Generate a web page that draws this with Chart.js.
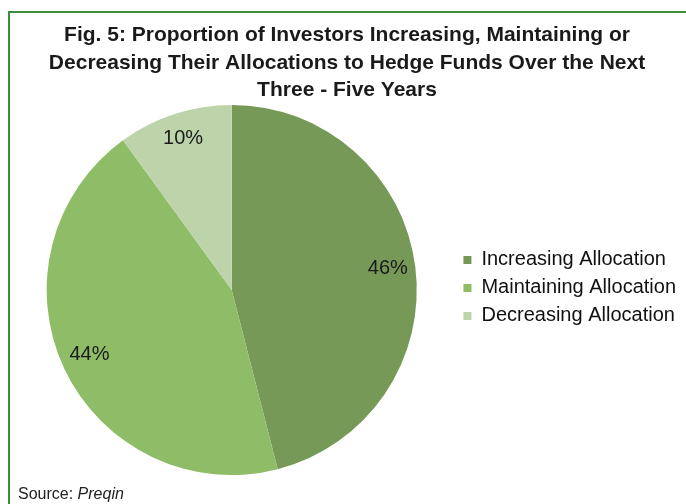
<!DOCTYPE html>
<html>
<head>
<meta charset="utf-8">
<script src="https://cdn.jsdelivr.net/npm/chart.js@4/dist/chart.umd.min.js"></script>
<style>
html,body{margin:0;padding:0;background:#fff;}
canvas{display:block;}
</style>
</head>
<body>
<canvas id="c" width="686" height="504"></canvas>
<script>
const categories = ["Increasing Allocation", "Maintaining Allocation", "Decreasing Allocation"];
const values = [46, 44, 10];
const colors = ["#779958", "#8fbc66", "#bdd4aa"];
const titleLines = ["Fig. 5: Proportion of Investors Increasing, Maintaining or", "Decreasing Their Allocations to Hedge Funds Over the Next", "Three - Five Years"];
const sourceLabel = "Source: ";
const sourceName = "Preqin";

const FONT = "'Liberation Sans', Arial, sans-serif";

const framePlugin = {
  id: 'frame',
  beforeDraw(chart) {
    const ctx = chart.ctx;
    ctx.save();
    ctx.fillStyle = '#ffffff';
    ctx.fillRect(0, 0, chart.width, chart.height);
    ctx.strokeStyle = '#3d8b3d';
    ctx.lineWidth = 2;
    ctx.beginPath();
    ctx.moveTo(9, chart.height);
    ctx.lineTo(9, 12);
    ctx.lineTo(chart.width, 12);
    ctx.stroke();
    ctx.restore();
  },
  afterLayout(chart) {
    const lg = chart.legend;
    if (!lg) return;
    const ca = chart.chartArea;
    const shift = (ca.top + ca.bottom) / 2 - 2 - (lg.top + lg.bottom) / 2;
    lg.top += shift;
    lg.bottom += shift;
  },
  afterDraw(chart) {
    const ctx = chart.ctx;
    ctx.save();
    ctx.fillStyle = '#222';
    ctx.textBaseline = 'alphabetic';
    ctx.font = "16px " + FONT;
    ctx.fillText(sourceLabel, 18, 499);
    const w = ctx.measureText(sourceLabel).width;
    ctx.font = "italic 16px " + FONT;
    ctx.fillText(sourceName, 18 + w, 499);
    ctx.restore();
  }
};

const labelPlugin = {
  id: 'sliceLabels',
  afterDatasetsDraw(chart) {
    const ctx = chart.ctx;
    const meta = chart.getDatasetMeta(0);
    ctx.save();
    ctx.font = "20px " + FONT;
    ctx.fillStyle = '#1a1a1a';
    ctx.textAlign = 'center';
    ctx.textBaseline = 'middle';
    meta.data.forEach((arc, i) => {
      const p = arc.getProps(['x', 'y', 'startAngle', 'endAngle', 'outerRadius'], true);
      const mid = (p.startAngle + p.endAngle) / 2;
      const r = p.outerRadius * 0.85;
      ctx.fillText(values[i] + '%', p.x + Math.cos(mid) * r, p.y + Math.sin(mid) * r - 2);
    });
    ctx.restore();
  }
};

new Chart(document.getElementById('c'), {
  type: 'pie',
  data: {
    labels: categories,
    datasets: [{
      data: values,
      backgroundColor: colors,
      borderWidth: 0
    }]
  },
  options: {
    responsive: false,
    animation: false,
    devicePixelRatio: 1,
    layout: { padding: { left: 8, right: 0, top: 22, bottom: 29 } },
    plugins: {
      title: {
        display: true,
        text: titleLines,
        color: '#1a1a1a',
        font: { family: FONT, size: 21, weight: 'bold', lineHeight: 1.3 },
        padding: { top: 0, bottom: 1 }
      },
      legend: {
        display: true,
        position: 'right',
        align: 'center',
        labels: {
          boxWidth: 8,
          boxHeight: 8,
          color: '#111',
          font: { family: FONT, size: 20 },
          padding: 8
        }
      },
      tooltip: { enabled: false }
    }
  },
  plugins: [framePlugin, labelPlugin]
});
</script>
</body>
</html>
